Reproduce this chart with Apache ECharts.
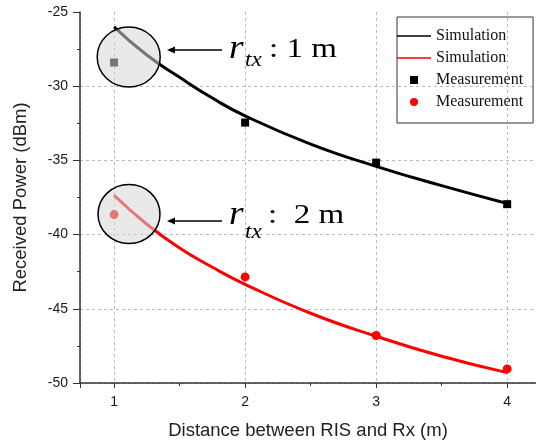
<!DOCTYPE html>
<html>
<head>
<meta charset="utf-8">
<title>Received Power vs Distance</title>
<style>
  html, body { margin:0; padding:0; width:536px; height:445px; background:#fff; }
  #main { width:536px; height:445px; }
</style>
</head>
<body>
<div id="main"></div>
<script src="https://cdn.jsdelivr.net/npm/echarts@6/dist/echarts.min.js"></script>
<script>
// simulation curves
var simX = [1, 1.25, 1.5, 1.75, 2, 2.5, 3, 3.5, 4];
var sim1m = [-26.0, -27.9, -29.4, -30.8, -32.0, -33.9, -35.4, -36.7, -37.9];
var sim2m = [-37.35, -39.3, -40.9, -42.2, -43.35, -45.3, -46.85, -48.2, -49.3];
// measured points
var measX = [1, 2, 3, 4];
var meas1m = [-28.4, -32.45, -35.15, -37.95];
var meas2m = [-38.65, -42.85, -46.8, -49.05];

function pairs(xs, ys) {
    return xs.map(function (x, i) { return [x, ys[i]]; });
}

var serif = 'Liberation Serif';
var sans = 'Liberation Sans';
var lineIcon = 'path://M0,0 L40,0 L40,1.6 L0,1.6 Z';
var squareIcon = 'path://M0,0 L1,0 L1,1 L0,1 Z';

var myChart = echarts.init(document.getElementById('main'));

var options = {
    animation: false,
    grid: { left: 80, top: 12, right: 0, bottom: 61 },
    legend: {
        orient: 'vertical',
        left: 397, top: 17,
        padding: [11, 10, 13, 0],
        itemWidth: 34, itemHeight: 8, itemGap: 6,
        borderColor: '#333', borderWidth: 1, borderRadius: 0,
        textStyle: { fontFamily: serif, fontSize: 16, color: '#111' },
        formatter: function (name) { return name.split(' ')[0]; },
        data: [
            { name: 'Simulation (1 m)', icon: lineIcon },
            { name: 'Simulation (2 m)', icon: lineIcon },
            { name: 'Measurement (1 m)', icon: squareIcon },
            { name: 'Measurement (2 m)', icon: 'circle' }
        ]
    },
    xAxis: {
        type: 'value',
        min: 0.74, max: 4.22,
        splitNumber: 3,
        name: 'Distance between RIS and Rx (m)',
        nameLocation: 'middle', nameGap: 38,
        nameTextStyle: { fontFamily: sans, fontSize: 18.5, color: '#222' },
        axisLine: { lineStyle: { color: '#333', width: 1.5 } },
        axisTick: { inside: false, length: 5, lineStyle: { color: '#333' } },
        minorTick: { show: true, splitNumber: 2, length: 3, lineStyle: { color: '#333' } },
        axisLabel: { fontFamily: sans, fontSize: 14, color: '#1a1a1a', margin: 12,
                     showMinLabel: false, showMaxLabel: false },
        splitLine: { show: true, lineStyle: { color: '#bbb', type: [3, 3], width: 1 } }
    },
    yAxis: {
        type: 'value',
        min: -50, max: -25, interval: 5,
        name: 'Received Power (dBm)',
        nameLocation: 'middle', nameGap: 50,
        nameTextStyle: { fontFamily: sans, fontSize: 18.5, color: '#222' },
        axisLine: { show: true, lineStyle: { color: '#333', width: 1.5 } },
        axisTick: { show: true, inside: false, length: 7, lineStyle: { color: '#333' } },
        minorTick: { show: true, splitNumber: 2, length: 3, lineStyle: { color: '#333' } },
        axisLabel: { fontFamily: sans, fontSize: 14, color: '#1a1a1a', margin: 12 },
        splitLine: { show: true, lineStyle: {
            color: ['#bbb', '#bbb', '#bbb', '#bbb', '#bbb', 'rgba(0,0,0,0)'], type: [3, 3], width: 1 } }
    },
    series: [
        {
            name: 'Simulation (1 m)', type: 'line', smooth: true, symbol: 'none',
            lineStyle: { color: '#000', width: 3 }, itemStyle: { color: '#000' },
            data: pairs(simX, sim1m)
        },
        {
            name: 'Simulation (2 m)', type: 'line', smooth: true, symbol: 'none',
            lineStyle: { color: '#ff0000', width: 3 }, itemStyle: { color: '#ff0000' },
            data: pairs(simX, sim2m)
        },
        {
            name: 'Measurement (1 m)', type: 'scatter', symbol: 'rect', symbolSize: 8,
            itemStyle: { color: '#000', opacity: 1 },
            data: pairs(measX, meas1m)
        },
        {
            name: 'Measurement (2 m)', type: 'scatter', symbol: 'circle', symbolSize: 9,
            itemStyle: { color: '#ff0000', opacity: 1 },
            data: pairs(measX, meas2m)
        }
    ],
    graphic: [
        // highlight circles
        { type: 'ellipse', z: 100, shape: { cx: 128.7, cy: 57, rx: 31.5, ry: 30 },
          style: { fill: 'rgba(215,215,215,0.55)', stroke: '#000', lineWidth: 1.5 } },
        { type: 'ellipse', z: 100, shape: { cx: 129, cy: 214, rx: 31, ry: 29.5 },
          style: { fill: 'rgba(215,215,215,0.55)', stroke: '#000', lineWidth: 1.5 } },
        // arrows
        { type: 'line', z: 100, shape: { x1: 222, y1: 50, x2: 172, y2: 50 },
          style: { stroke: '#000', lineWidth: 1.5 } },
        { type: 'polygon', z: 100, shape: { points: [[167, 50], [175, 46.5], [175, 53.5]] },
          style: { fill: '#000' } },
        { type: 'line', z: 100, shape: { x1: 222, y1: 221, x2: 172, y2: 221 },
          style: { stroke: '#000', lineWidth: 1.5 } },
        { type: 'polygon', z: 100, shape: { points: [[167, 221], [175, 217.5], [175, 224.5]] },
          style: { fill: '#000' } },
        // labels
        { type: 'text', z: 100, x: 229, y: 49, scaleX: 1.1,
          style: { text: 'r', fontFamily: serif, fontStyle: 'italic', fontSize: 34, fill: '#000', verticalAlign: 'middle' } },
        { type: 'text', z: 100, x: 245, y: 60, scaleX: 1.1,
          style: { text: 'tx', fontFamily: serif, fontStyle: 'italic', fontSize: 21, fill: '#000', verticalAlign: 'middle' } },
        { type: 'text', z: 100, x: 269, y: 50, scaleX: 1.18,
          style: { text: ': 1 m', fontFamily: serif, fontSize: 28, fill: '#000', verticalAlign: 'middle' } },
        { type: 'text', z: 100, x: 229, y: 215, scaleX: 1.1,
          style: { text: 'r', fontFamily: serif, fontStyle: 'italic', fontSize: 34, fill: '#000', verticalAlign: 'middle' } },
        { type: 'text', z: 100, x: 245, y: 232, scaleX: 1.1,
          style: { text: 'tx', fontFamily: serif, fontStyle: 'italic', fontSize: 21, fill: '#000', verticalAlign: 'middle' } },
        { type: 'text', z: 100, x: 268, y: 216, scaleX: 1.18,
          style: { text: ':  2 m', fontFamily: serif, fontSize: 28, fill: '#000', verticalAlign: 'middle' } }
    ]
};

myChart.setOption(options);
</script>
</body>
</html>
